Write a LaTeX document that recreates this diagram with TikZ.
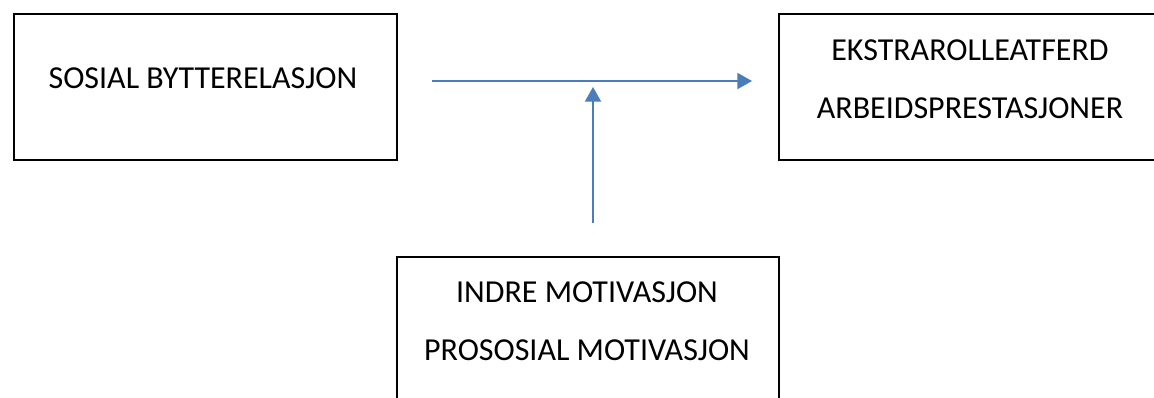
\documentclass[tikz,border=0pt]{standalone}
\usepackage{fontspec}
\setmainfont{Carlito}
\usepackage{xcolor}
\usetikzlibrary{positioning, arrows.meta}
\definecolor{arrowblue}{HTML}{4A7EBB}

\begin{document}
\begin{tikzpicture}[
    x=0.75pt, y=-0.75pt,
    box/.style={rectangle, draw=black, line width=1.5pt, fill=none,
                minimum width=287pt, minimum height=110pt, inner sep=0pt},
    boxtext/.style={font=\fontsize{24}{43.5}\selectfont, align=center, inner sep=0pt},
    arr/.style={-{Triangle[length=11pt, width=12pt]}, line width=1.5pt, arrowblue}
]
    \useasboundingbox (0,0) rectangle (1154,397);

    % Boxes
    \node[box] (social) at (205.5,87) {};
    \node[box] (extra) at (970,87) {};
    \node[box] (motiv) at (588,330) {};

    \node[boxtext] (socialtext) at (203,78) {SOSIAL BYTTERELASJON};
    \node[boxtext] (extratext) at (970,79) {EKSTRAROLLEATFERD\\ARBEIDSPRESTASJONER};
    \node[boxtext] (motivtext) at (587,321) {INDRE MOTIVASJON\\PROSOSIAL MOTIVASJON};

    % Arrows
    \coordinate (hstart) at (432,81);
    \coordinate (hend) at (752,81);
    \coordinate (vstart) at (593,223);
    \coordinate (vend) at (593,87);

    \draw[arr] (hstart) -- (hend);
    \draw[arr] (vstart) -- (vend);
\end{tikzpicture}
\end{document}
